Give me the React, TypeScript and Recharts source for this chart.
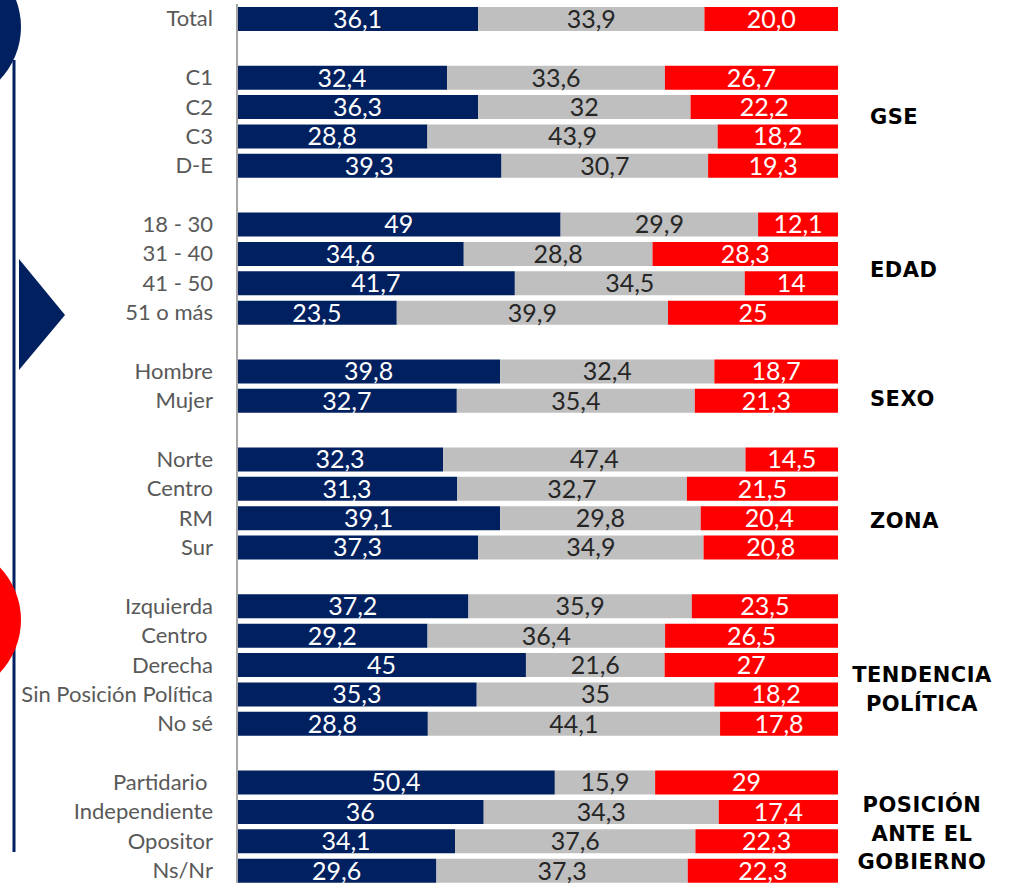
import { BarChart, Bar, XAxis, YAxis, LabelList } from 'recharts';

// row labels, blank strings are spacer rows between groups
const categories = [
  'Total', '',
  'C1', 'C2', 'C3', 'D-E', '',
  '18 - 30', '31 - 40', '41 - 50', '51 o más', '',
  'Hombre', 'Mujer', '',
  'Norte', 'Centro', 'RM', 'Sur', '',
  'Izquierda', 'Centro\u00a0', 'Derecha', 'Sin Posición Política', 'No sé', '',
  'Partidario\u00a0', 'Independiente', 'Opositor', 'Ns/Nr',
];

const navyText = [
  '36,1', '',
  '32,4', '36,3', '28,8', '39,3', '',
  '49', '34,6', '41,7', '23,5', '',
  '39,8', '32,7', '',
  '32,3', '31,3', '39,1', '37,3', '',
  '37,2', '29,2', '45', '35,3', '28,8', '',
  '50,4', '36', '34,1', '29,6',
];

const grayText = [
  '33,9', '',
  '33,6', '32', '43,9', '30,7', '',
  '29,9', '28,8', '34,5', '39,9', '',
  '32,4', '35,4', '',
  '47,4', '32,7', '29,8', '34,9', '',
  '35,9', '36,4', '21,6', '35', '44,1', '',
  '15,9', '34,3', '37,6', '37,3',
];

const redText = [
  '20,0', '',
  '26,7', '22,2', '18,2', '19,3', '',
  '12,1', '28,3', '14', '25', '',
  '18,7', '21,3', '',
  '14,5', '21,5', '20,4', '20,8', '',
  '23,5', '26,5', '27', '18,2', '17,8', '',
  '29', '17,4', '22,3', '22,3',
];

const groupLabels = [
  { lines: ['GSE'], y: 117, anchor: 'start' },
  { lines: ['EDAD'], y: 270, anchor: 'start' },
  { lines: ['SEXO'], y: 399, anchor: 'start' },
  { lines: ['ZONA'], y: 521, anchor: 'start' },
  { lines: ['TENDENCIA', 'POLÍTICA'], y: 675, anchor: 'middle' },
  { lines: ['POSICIÓN', 'ANTE EL', 'GOBIERNO'], y: 805, anchor: 'middle' },
];

const toNum = (s: string) => (s === '' ? null : parseFloat(s.replace(',', '.')));

const data = categories.map((label, i) => ({
  label,
  a: toNum(navyText[i]),
  b: toNum(grayText[i]),
  c: toNum(redText[i]),
  aText: navyText[i],
  bText: grayText[i],
  cText: redText[i],
}));

const NAVY = '#002060';
const GRAY = '#BFBFBF';
const RED = '#FF0000';

const valueStyle = { fontFamily: 'Lato, sans-serif', fontSize: 25 };

export default function App() {
  return (
    <div style={{ position: 'absolute', left: 0, top: 0, width: 1020, height: 883, overflow: 'hidden', background: '#fff' }}>
      <BarChart
        width={1020}
        height={890}
        data={data}
        layout="vertical"
        stackOffset="expand"
        barSize={24}
        margin={{ top: 4, right: 182, bottom: 5, left: 0 }}
      >
        <XAxis type="number" domain={[0, 1]} hide />
        <YAxis
          type="category"
          dataKey="label"
          width={237}
          interval={0}
          tickLine={false}
          tickMargin={18}
          axisLine={{ stroke: '#A6A6A6', strokeWidth: 2 }}
          tick={{ fill: '#595959', fontSize: 22, fontFamily: 'Lato, sans-serif' }}
        />
        <Bar dataKey="a" stackId="s" fill={NAVY} isAnimationActive={false}>
          <LabelList dataKey="aText" position="center" fill="#fff" style={valueStyle} />
        </Bar>
        <Bar dataKey="b" stackId="s" fill={GRAY} isAnimationActive={false}>
          <LabelList dataKey="bText" position="center" fill="#262626" style={valueStyle} />
        </Bar>
        <Bar dataKey="c" stackId="s" fill={RED} isAnimationActive={false}>
          <LabelList dataKey="cText" position="center" fill="#fff" style={valueStyle} />
        </Bar>
      </BarChart>

      {/* slide decoration + group titles */}
      <svg width={1020} height={883} style={{ position: 'absolute', left: 0, top: 0, pointerEvents: 'none' }}>
        <line x1={14} y1={60} x2={14} y2={852} stroke={NAVY} strokeWidth={3} />
        <circle cx={-55} cy={27} r={76} fill={NAVY} />
        <circle cx={-55} cy={620} r={76} fill={RED} />
        <polygon points="19,259 65,315 19,370" fill={NAVY} />
        {groupLabels.map((g) =>
          g.lines.map((line, j) => (
            <text
              key={line}
              x={g.anchor === 'start' ? 870 : 922}
              y={g.y + j * 28.7}
              textAnchor={g.anchor as 'start' | 'middle'}
              dominantBaseline="central"
              fontFamily="'DejaVu Sans', sans-serif"
              fontWeight="bold"
              fontSize={21}
              letterSpacing={0.5}
              fill="#000"
            >
              {line}
            </text>
          ))
        )}
      </svg>
    </div>
  );
}
